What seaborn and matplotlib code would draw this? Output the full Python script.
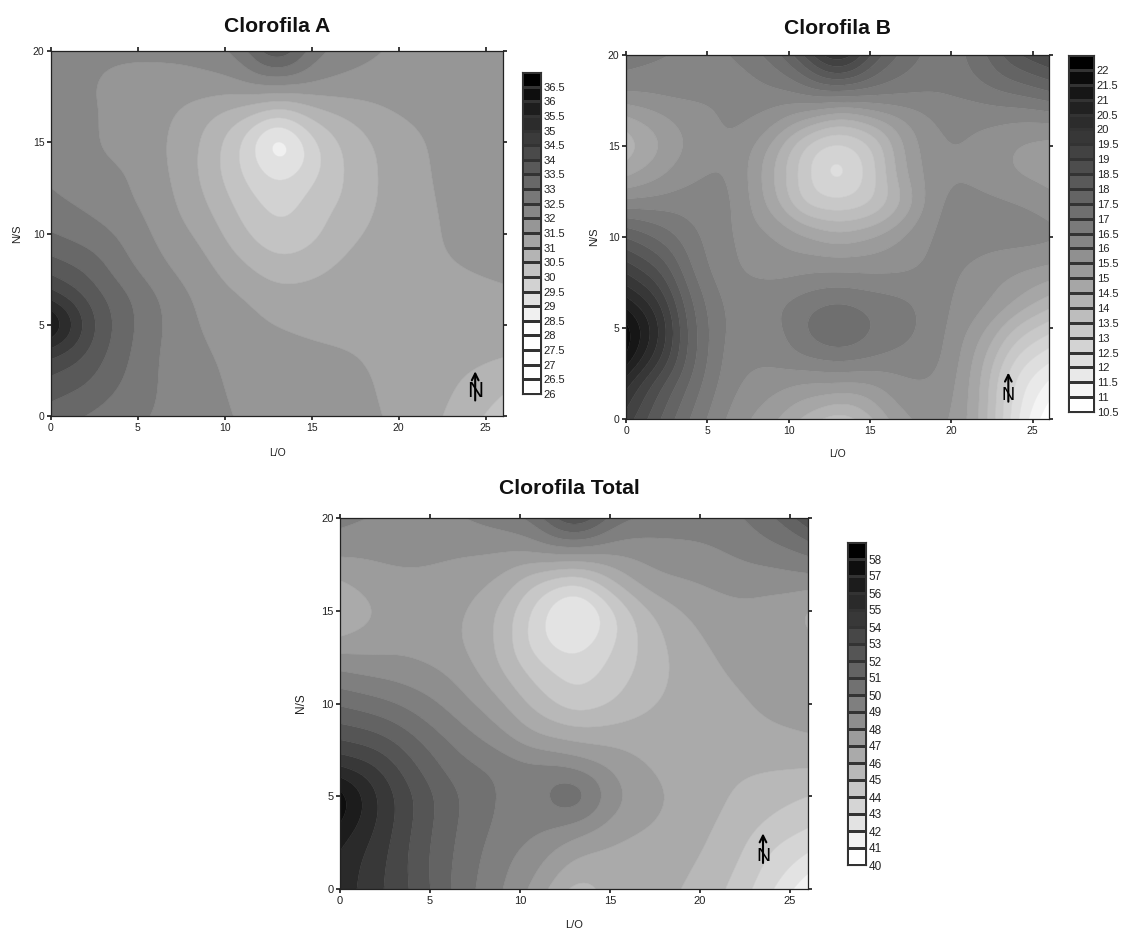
import matplotlib
matplotlib.use("Agg")
import matplotlib.pyplot as plt
import matplotlib.tri as mtri
from matplotlib.colors import ListedColormap
import numpy as np
import seaborn as sns

x_nodes = [0, 2, 4, 6.5, 9, 11, 13, 15, 17, 19.5, 22, 24, 26]
y_nodes = [0, 2, 3.5, 5, 6.5, 8, 10, 12, 13.5, 15, 16.5, 18, 20]
x_ticks = [0, 5, 10, 15, 20, 25]
y_ticks = [0, 5, 10, 15, 20]

# Clorofila A, una fila por cada y_nodes
clorofila_a = [
    [33.25, 33.0, 32.7, 32.4, 32.15, 31.95, 31.85, 31.75, 31.63, 31.47, 31.1, 30.72, 30.2],
    [33.9, 33.6, 33.03, 32.42, 32.08, 31.9, 31.78, 31.7, 31.62, 31.42, 31.2, 30.95, 30.7],
    [34.65, 34.0, 33.2, 32.42, 32.03, 31.85, 31.72, 31.62, 31.55, 31.3, 31.2, 31.17, 31.1],
    [36.3, 34.4, 33.3, 32.48, 31.9, 31.68, 31.47, 31.35, 31.25, 31.2, 31.2, 31.2, 31.2],
    [34.75, 33.95, 33.2, 32.42, 31.8, 31.53, 31.22, 31.25, 31.25, 31.27, 31.3, 31.33, 31.42],
    [33.85, 33.45, 32.75, 32.08, 31.63, 31.15, 30.75, 30.85, 31.15, 31.33, 31.42, 31.52, 31.58],
    [33.0, 32.75, 32.42, 31.82, 31.3, 30.6, 30.1, 30.35, 30.85, 31.2, 31.47, 31.6, 31.65],
    [32.55, 32.35, 32.1, 31.65, 30.95, 30.25, 29.75, 30.15, 30.55, 31.15, 31.5, 31.62, 31.68],
    [32.4, 32.2, 32.05, 31.57, 30.8, 29.95, 29.2, 29.78, 30.55, 31.15, 31.53, 31.65, 31.7],
    [32.35, 32.12, 31.8, 31.55, 30.85, 29.95, 28.4, 29.85, 30.65, 31.2, 31.55, 31.67, 31.72],
    [32.3, 32.1, 31.87, 31.6, 31.1, 30.65, 30.0, 30.65, 31.07, 31.45, 31.62, 31.7, 31.75],
    [32.3, 32.05, 31.85, 31.78, 31.75, 31.8, 31.9, 31.85, 31.78, 31.75, 31.78, 31.8, 31.8],
    [32.2, 32.15, 32.1, 32.1, 32.25, 32.75, 34.0, 32.75, 32.25, 31.95, 31.9, 31.85, 31.8],
]

# Clorofila B
clorofila_b = [
    [19.3, 18.08, 16.95, 15.85, 15.15, 14.4, 13.7, 14.4, 15.4, 15.65, 14.3, 12.05, 10.6],
    [20.15, 18.7, 17.4, 16.15, 15.75, 15.48, 15.5, 15.5, 15.92, 15.85, 14.35, 12.3, 11.4],
    [21.6, 19.8, 17.75, 16.25, 16.15, 16.6, 16.85, 16.65, 16.35, 16.03, 14.6, 13.0, 12.25],
    [21.8, 20.2, 17.75, 16.35, 16.3, 17.05, 17.5, 17.05, 16.75, 16.07, 15.1, 13.9, 13.2],
    [20.65, 19.55, 17.5, 16.3, 16.35, 16.75, 17.0, 16.8, 16.6, 16.07, 15.65, 15.05, 14.35],
    [19.5, 18.65, 17.05, 16.1, 15.85, 15.95, 16.03, 15.95, 15.95, 16.1, 15.75, 15.5, 15.25],
    [18.0, 17.4, 16.65, 16.03, 15.55, 15.1, 14.7, 15.0, 15.55, 16.15, 16.2, 16.2, 16.15],
    [16.05, 16.15, 16.2, 16.05, 14.7, 13.2, 13.0, 13.3, 14.4, 16.05, 16.1, 16.0, 15.7],
    [14.85, 15.35, 15.9, 15.97, 14.55, 13.2, 12.1, 13.2, 14.9, 15.9, 15.8, 15.45, 15.25],
    [14.1, 14.9, 15.6, 15.95, 14.85, 13.4, 12.8, 13.35, 15.0, 16.0, 15.85, 15.45, 15.3],
    [14.85, 15.3, 15.75, 16.1, 15.8, 15.1, 14.35, 14.85, 15.5, 16.15, 16.1, 16.05, 16.1],
    [16.1, 16.15, 16.15, 16.15, 16.4, 16.7, 17.05, 16.85, 16.65, 16.55, 16.85, 17.15, 17.55],
    [16.75, 16.55, 16.4, 16.5, 17.2, 18.55, 20.1, 18.5, 17.35, 16.7, 17.4, 18.45, 19.0],
]

# Clorofila Total
clorofila_total = [
    [55.6, 54.3, 52.9, 50.7, 49.05, 47.6, 45.6, 46.4, 46.4, 45.85, 44.7, 43.1, 41.2],
    [55.85, 54.6, 52.8, 50.85, 49.4, 48.45, 47.3, 46.8, 46.5, 46.2, 45.25, 43.9, 43.05],
    [57.0, 55.0, 53.0, 51.0, 49.75, 49.35, 48.85, 47.75, 47.1, 46.4, 45.6, 44.8, 44.2],
    [57.7, 55.1, 53.1, 51.1, 49.85, 49.55, 51.0, 48.55, 47.45, 46.6, 45.9, 45.4, 44.95],
    [55.1, 54.15, 52.3, 50.45, 49.75, 49.4, 49.0, 47.95, 47.05, 46.5, 46.15, 46.05, 46.0],
    [53.0, 52.5, 51.3, 49.7, 48.45, 47.3, 46.9, 46.75, 46.55, 46.55, 46.6, 46.75, 46.9],
    [50.85, 50.35, 49.65, 48.5, 47.1, 45.55, 44.4, 44.95, 45.85, 46.4, 46.85, 47.2, 47.4],
    [48.75, 48.45, 48.2, 47.55, 45.9, 44.3, 43.4, 44.2, 45.3, 46.5, 47.2, 47.45, 47.6],
    [47.15, 47.4, 47.6, 47.1, 45.7, 43.2, 42.2, 43.7, 45.35, 46.75, 47.45, 47.5, 47.2],
    [45.6, 47.0, 47.6, 47.2, 45.7, 43.5, 41.3, 43.65, 45.8, 47.2, 47.8, 47.6, 46.7],
    [46.95, 47.55, 47.75, 47.55, 46.7, 44.9, 43.9, 45.7, 47.45, 47.95, 48.3, 48.3, 48.5],
    [48.1, 48.15, 48.25, 48.05, 47.9, 47.85, 47.85, 47.95, 48.3, 48.65, 49.1, 49.55, 50.0],
    [49.35, 48.9, 48.6, 48.9, 49.5, 50.5, 53.2, 50.7, 49.8, 49.5, 49.8, 50.8, 52.8],
]

niveles_a = [26 + 0.5 * i for i in range(23)]
niveles_b = [10.5 + 0.5 * i for i in range(25)]
niveles_total = list(range(40, 60))

W, H = 1124, 931
sns.set_theme(style="ticks", rc={"axes.linewidth": 0.9, "xtick.major.size": 3.2, "ytick.major.size": 3.2})
plt.rcParams["font.family"] = ["Liberation Sans", "DejaVu Sans"]

fig = plt.figure(figsize=(W / 100, H / 100), dpi=100)


def caja(l, t, r, b):
    return fig.add_axes([l / W, 1 - b / H, (r - l) / W, (b - t) / H])


def suavizar(z, celdas=7):
    # solo para el trazado: quita los quiebres entre los nodos leídos
    k = np.exp(-0.5 * (np.arange(-3 * celdas, 3 * celdas + 1) / celdas) ** 2)
    k = k / k.sum()
    m = 3 * celdas
    z = np.pad(z, m, mode="reflect", reflect_type="odd")
    z = np.apply_along_axis(lambda f: np.convolve(f, k, mode="same"), 0, z)
    z = np.apply_along_axis(lambda f: np.convolve(f, k, mode="same"), 1, z)
    return z[m:-m, m:-m]


def panel(valores, niveles, colores, titulo, mapa, barra, norte, pad, fs, pads, n_fs):
    ax = caja(*mapa)
    xx, yy = np.meshgrid(x_nodes, y_nodes)
    tri = mtri.Triangulation(xx.ravel(), yy.ravel())
    interp = mtri.CubicTriInterpolator(tri, np.array(valores).ravel(), kind="geom")
    xf, yf = np.meshgrid(np.linspace(0, 26, 261), np.linspace(0, 20, 201))
    zf = suavizar(np.asarray(interp(xf, yf)))
    cmap = ListedColormap(colores)
    cs = ax.contourf(xf, yf, zf, levels=niveles, colors=colores, extend="both", antialiased=True)
    cs.set_edgecolor("face")
    cs.set_linewidth(0.3)
    ax.set_xlim(0, 26)
    ax.set_ylim(0, 20)
    ax.set_xticks(x_ticks)
    ax.set_yticks(y_ticks)
    ax.tick_params(top=True, right=True, labelsize=fs, pad=1.5, color="#222222", labelcolor="#222222")
    ax.set_xlabel("L/O", fontsize=fs, labelpad=pads[0], color="#222222")
    ax.set_ylabel("N/S", fontsize=fs + 0.5, labelpad=pads[1], color="#222222")
    ax.set_title(titulo, fontsize=15.2, fontweight="bold", pad=pad, color="#111111", x=pads[2])
    for s in ax.spines.values():
        s.set_color("#222222")

    # símbolo del norte
    ax.annotate("", xy=(norte[0], norte[1] + 1.6), xytext=(norte[0], norte[1]),
                arrowprops=dict(arrowstyle="->", color="black", lw=1.5, shrinkA=0, shrinkB=0))
    ax.text(norte[0], norte[1] - 0.1, "N", ha="center", va="bottom", fontsize=n_fs, color="black")

    # barra de niveles
    cax = caja(*barra)
    bandas = np.array(niveles[:-1])[::-1].reshape(-1, 1)
    sns.heatmap(bandas, ax=cax, cmap=cmap, cbar=False, linewidths=0.8, linecolor="#333333",
                xticklabels=False, yticklabels=False)
    n = len(niveles) - 1
    cax.yaxis.tick_right()
    cax.set_yticks(np.arange(1, n + 1))
    cax.set_yticklabels([f"{v:g}" for v in niveles[:-1][::-1]], fontsize=fs + 0.5, rotation=0, color="#222222")
    cax.tick_params(axis="y", length=0, pad=2)
    for s in cax.spines.values():
        s.set_visible(True)
        s.set_color("#333333")
        s.set_linewidth(0.8)


colores_a = ["#ffffff"] * 5 + sns.blend_palette(["#f0f0f0", "#000000"], 17).as_hex()
colores_b = sns.blend_palette(["#ffffff", "#000000"], 24).as_hex()
colores_total = sns.blend_palette(["#ffffff", "#000000"], 19).as_hex()

panel(clorofila_a, niveles_a, colores_a, "Clorofila A",
      (51, 51, 503, 416), (522, 72, 541, 394), (24.4, 0.85), 13.5, 7.5, (11, 8, 0.5), 16)
panel(clorofila_b, niveles_b, colores_b, "Clorofila B",
      (626, 55, 1049, 419), (1068, 55, 1094, 412), (23.5, 0.95), 15, 7.5, (10, 6, 0.5), 13)
panel(clorofila_total, niveles_total, colores_total, "Clorofila Total",
      (340, 518, 808, 889), (847, 542, 866, 865), (23.5, 1.4), 17, 8, (10.5, 10, 0.49), 14)

fig.savefig("out.png", dpi=100)
